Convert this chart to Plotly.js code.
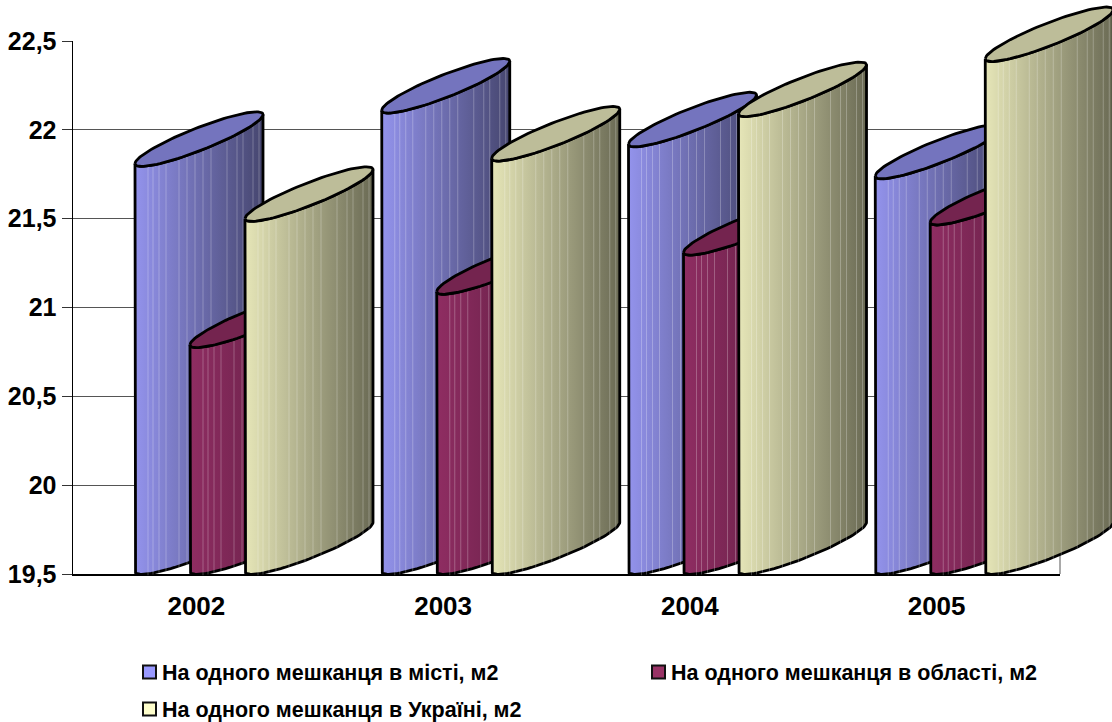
<!DOCTYPE html>
<html>
<head>
<meta charset="utf-8">
<script src="https://cdn.plot.ly/plotly-3.0.1.min.js"></script>
<style>html,body{margin:0;padding:0;background:#fff;overflow:hidden}</style>
</head>
<body>
<div id="chart" style="width:1112px;height:722px"></div>
<script>
const categories = ['2002', '2003', '2004', '2005'];
const seriesNames = ['На одного мешканця в місті, м2', 'На одного мешканця в області, м2', 'На одного мешканця в Україні, м2'];
const cityValues = [21.81, 22.11, 21.92, 21.74];
const regionValues = [20.79, 21.09, 21.31, 21.48];
const ukraineValues = [21.5, 21.84, 22.09, 22.4];
const yTickValues = [19.5, 20, 20.5, 21, 21.5, 22, 22.5];
const yTickLabels = ['19,5', '20', '20,5', '21', '21,5', '22', '22,5'];

const seriesValues = [cityValues, regionValues, ukraineValues];
const sideLeft = ['#9393EC', '#8F2D62', '#E6E6B8'];
const sideRight = ['#46466F', '#561B3C', '#6A6A54'];
const topColors = ['#7474BE', '#74244F', '#BDBD99'];
const legendColors = ['#9999FF', '#993366', '#FFFFCC'];
const stripeOffsets = [13, 18, 24, 31, 44, 52, 60, 68, 76, 92, 102, 108, 118, 124];

const W = 1112, H = 722;
const box = {l: 73, r: 1060, t: 41, b: 574};
const plotW = box.r - box.l, plotH = box.b - box.t;
const yMin = 19.5, yMax = 22.5;
const pxX = plotW / categories.length, pxY = plotH / (yMax - yMin);
const groupStart = 62, seriesStep = 55, halfW = 64, rise = 24.5, minor = 12, dip = 2.5;

function arc(x0, y0, sign, from, to) {
  const xs = [], ys = [];
  const n = 48;
  for (let i = 0; i <= n; i++) {
    const th = from + (to - from) * i / n;
    const s = -Math.cos(th);
    const off = sign * minor * Math.sin(th);
    xs.push(x0 + (halfW * (1 + s)) / pxX);
    ys.push(y0 + (rise * (1 + s) + off) / pxY);
  }
  return [xs, ys];
}

const traces = [];
const onTop = {type: 'scatter', mode: 'lines', xaxis: 'x2', yaxis: 'y2', hoverinfo: 'skip', showlegend: false};
categories.forEach((cat, c) => {
  seriesValues.forEach((vals, k) => {
    const x0 = c + (groupStart + k * seriesStep) / pxX;
    const v = vals[c];
    const base = yMin + dip / pxY;
    const [bx, by] = arc(x0, base, -1, 0, Math.PI);
    const [tx, ty] = arc(x0, v, -1, Math.PI, 0);
    traces.push(Object.assign({}, onTop, {
      x: [x0].concat(bx, tx), y: [v].concat(by, ty),
      fill: 'toself',
      fillgradient: {type: 'horizontal', colorscale: [[0, sideLeft[k]], [1, sideRight[k]]]},
      line: {color: '#000', width: 2.8}
    }));
    const sx = [], sy = [];
    stripeOffsets.forEach(o => {
      const s = o / halfW - 1;
      const q = Math.sqrt(1 - s * s) * minor;
      const xx = x0 + o / pxX;
      const lift = (rise * (1 + s) - q - 1.5) / pxY;
      sx.push(xx, xx, null);
      sy.push(v + lift, base + lift, null);
    });
    traces.push(Object.assign({}, onTop, {
      x: sx, y: sy, line: {color: 'rgba(255,255,255,0.25)', width: 1}
    }));
    const [ux, uy] = arc(x0, v, 1, 0, Math.PI);
    const [lx, ly] = arc(x0, v, -1, Math.PI, 0);
    traces.push(Object.assign({}, onTop, {
      x: ux.concat(lx), y: uy.concat(ly),
      fill: 'toself', fillcolor: topColors[k],
      line: {color: '#000', width: 2.8}
    }));
  });
});
// anchor trace so the visible axes exist
traces.unshift({type: 'scatter', mode: 'lines', x: [null], y: [null], hoverinfo: 'skip', showlegend: false});

const paperX = px => px / W;
const paperY = py => 1 - py / H;
const legendAt = [[143, 672], [652, 672], [143, 709]];
const shapes = [{
  type: 'line', xref: 'paper', yref: 'paper', x0: paperX(box.r), x1: paperX(box.r), y0: paperY(box.b), y1: paperY(box.t), layer: 'below',
  line: {color: '#555', width: 1}
}];
const annotations = [];
const fontFam = '"Liberation Sans", Arial, sans-serif';
seriesNames.forEach((name, i) => {
  const [px, py] = legendAt[i];
  shapes.push({
    type: 'rect', xref: 'paper', yref: 'paper', layer: 'above',
    x0: paperX(px), x1: paperX(px + 13), y0: paperY(py - 6.5), y1: paperY(py + 6.5),
    fillcolor: legendColors[i], line: {color: '#111', width: 2}
  });
  annotations.push({
    xref: 'paper', yref: 'paper', x: paperX(px + 17), y: paperY(py + 1),
    xanchor: 'left', yanchor: 'middle', showarrow: false, text: name,
    font: {family: fontFam, size: 21.5, color: '#000', weight: 700}
  });
});

const layout = {
  width: W, height: H,
  margin: {l: 0, r: 0, t: 0, b: 0, pad: 0},
  paper_bgcolor: '#fff', plot_bgcolor: 'rgba(0,0,0,0)',
  showlegend: false,
  font: {family: fontFam, color: '#000'},
  xaxis: {
    domain: [paperX(box.l), paperX(box.r)],
    range: [0, categories.length],
    tickmode: 'array', tickvals: categories.map((_, i) => i + 0.5), ticktext: categories,
    ticks: '', showgrid: false, zeroline: false,
    showline: true, linecolor: '#000', linewidth: 2,
    ticklabelstandoff: 8,
    tickfont: {size: 26, weight: 700, color: '#000', family: fontFam}
  },
  yaxis: {
    domain: [paperY(box.b), paperY(box.t)],
    range: [yMin, yMax],
    tickmode: 'array', tickvals: yTickValues, ticktext: yTickLabels,
    ticks: 'outside', ticklen: 10, tickwidth: 1, tickcolor: '#333',
    showgrid: true, gridcolor: '#555', gridwidth: 1, zeroline: false,
    showline: true, linecolor: '#000', linewidth: 1.5,
    tickfont: {size: 25, weight: 700, color: '#000', family: fontFam}
  },
  xaxis2: {
    domain: [0, 1], anchor: 'y2', visible: false,
    range: [-box.l / pxX, (W - box.l) / pxX]
  },
  yaxis2: {
    domain: [0, 1], anchor: 'x2', visible: false,
    range: [yMin - (H - box.b) / pxY, yMax + box.t / pxY]
  },
  shapes, annotations
};
Plotly.newPlot('chart', traces, layout, {displayModeBar: false, staticPlot: true});
</script>
</body>
</html>
